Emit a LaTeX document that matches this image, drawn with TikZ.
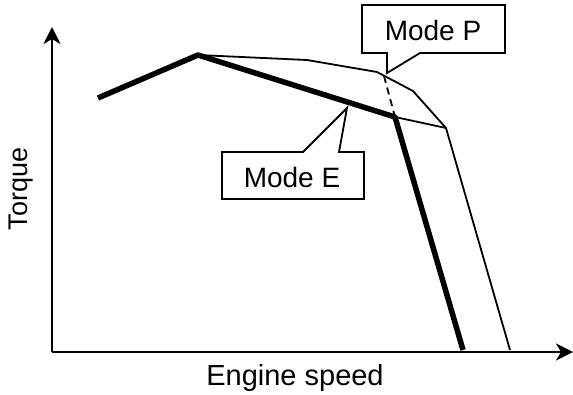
\documentclass[tikz,border=0pt]{standalone}
\usepackage{fontspec}
\setmainfont{Liberation Sans}
\usetikzlibrary{arrows.meta, positioning}

\begin{document}
\begin{tikzpicture}[x=1pt, y=-1pt,
  axis/.style={line width=2.2pt, -{Stealth[length=17pt, width=17pt, inset=5pt]}},
  modeE/.style={line width=5.5pt, line join=round},
  modeP/.style={line width=1.8pt, line join=round},
  callout/.style={line width=1.8pt, fill=white, line join=miter},
  lbl/.style={font=\fontsize{28}{32}\selectfont}]
\useasboundingbox (0,0) rectangle (573,394);
% axes
\coordinate (O) at (52,352);
\coordinate (ytop) at (52,27);
\coordinate (xend) at (573,352);
\draw[axis] (O) -- (ytop);
\draw[axis] (O) -- (xend);
\node[font=\fontsize{27}{31}\selectfont, rotate=90] (torque) at (21,189) {Torque};
\node[font=\fontsize{29}{33}\selectfont] (speed) at (295,378) {Engine speed};
% mode P (thin) and mode E (thick)
\coordinate (e0) at (98,98);
\coordinate (pk) at (198,55);
\coordinate (e1) at (395,117);
\coordinate (e2) at (463,350);
\coordinate (p1) at (307,60);
\coordinate (p2) at (377,72);
\coordinate (p3) at (413,91);
\coordinate (p4) at (446,128);
\coordinate (p5) at (510,350);
\coordinate (d0) at (384,76);
\draw[modeP] (pk) -- (p1) -- (p2) -- (p3) -- (p4) -- (p5);
\draw[modeP] (e1) -- (p4);
\draw[modeP, dash pattern=on 7pt off 5pt] (d0) -- (e1);
\draw[modeE] (e0) -- (pk) -- (e1) -- (e2);
% callouts
\draw[callout] (362,5) -- (505,5) -- (505,53) -- (420,53) -- (387,73)
  -- (387,53) -- (362,53) -- cycle;
\node[lbl] (modeP) at (433,30) {Mode P};
\draw[callout] (222,152) -- (303,152) -- (347,108) -- (339,152)
  -- (364,152) -- (364,199) -- (222,199) -- cycle;
\node[lbl] (modeE) at (292,177) {Mode E};
\end{tikzpicture}
\end{document}
